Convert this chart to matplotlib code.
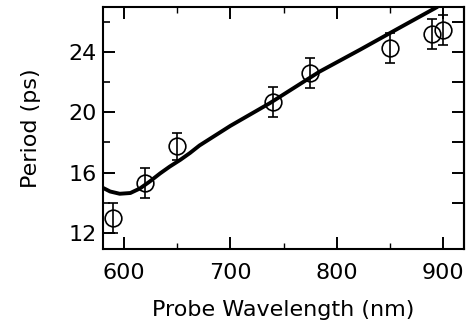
import numpy as np
import matplotlib
matplotlib.use('Agg')
import matplotlib.pyplot as plt
from matplotlib.ticker import MultipleLocator

# measured points (probe wavelength in nm, period in ps)
wavelength = [590, 620, 650, 740, 775, 850, 890, 900]
period = [13.0, 15.3, 17.75, 20.7, 22.6, 24.25, 25.2, 25.45]
period_err = [1.0, 1.0, 0.9, 1.0, 1.0, 1.0, 1.0, 1.0]

# model curve
curve_wl = [580, 587, 596, 606, 615, 624, 634, 643, 653, 662, 671, 700, 737, 784, 822, 859, 895]
curve_period = [15.0, 14.75, 14.6, 14.65, 14.95, 15.4, 15.95, 16.4, 16.85, 17.3, 17.8,
                19.1, 20.6, 22.7, 24.15, 25.6, 27.0]

plt.rcParams['font.size'] = 16

fig = plt.figure(figsize=(4.68, 3.28), dpi=100)
ax = fig.add_axes([0.2201, 0.2409, 0.7714, 0.7378])

ax.plot(curve_wl, curve_period, color='black', linewidth=2.8, solid_capstyle='butt',
        solid_joinstyle='round')
ax.errorbar(wavelength, period, yerr=period_err, fmt='o', color='black',
            markerfacecolor='none', markeredgecolor='black', markersize=12,
            markeredgewidth=1.2, elinewidth=1.2, capsize=3.4, capthick=1.2)

ax.set_xlim(580.3, 919.7)
ax.set_ylim(10.94, 26.98)

ax.xaxis.set_major_locator(MultipleLocator(100))
ax.xaxis.set_minor_locator(MultipleLocator(50))
ax.yaxis.set_major_locator(MultipleLocator(4))
ax.yaxis.set_minor_locator(MultipleLocator(2))

ax.tick_params(which='both', direction='in', top=True, right=False)
ax.tick_params(axis='x', which='major', length=8.6, width=1.4, pad=10)
ax.tick_params(axis='x', which='minor', length=4.3, width=1.0)
ax.tick_params(axis='y', which='major', length=8.6, width=1.4, pad=4.5)
ax.tick_params(axis='y', which='minor', length=5.0, width=1.2)

# right side: every tick full length, no labels
sec = ax.secondary_yaxis('right')
sec.set_yticks([14, 16, 18, 20, 22, 24, 26])
sec.tick_params(direction='in', length=8.6, width=1.4, labelright=False)
sec.yaxis.set_minor_locator(plt.NullLocator())
sec.spines['right'].set_linewidth(1.5)

for s in ax.spines.values():
    s.set_linewidth(1.5)

ax.set_xlabel('Probe Wavelength (nm)', labelpad=12)
ax.set_ylabel('Period (ps)', labelpad=20)

fig.savefig('out.png', dpi=100)
